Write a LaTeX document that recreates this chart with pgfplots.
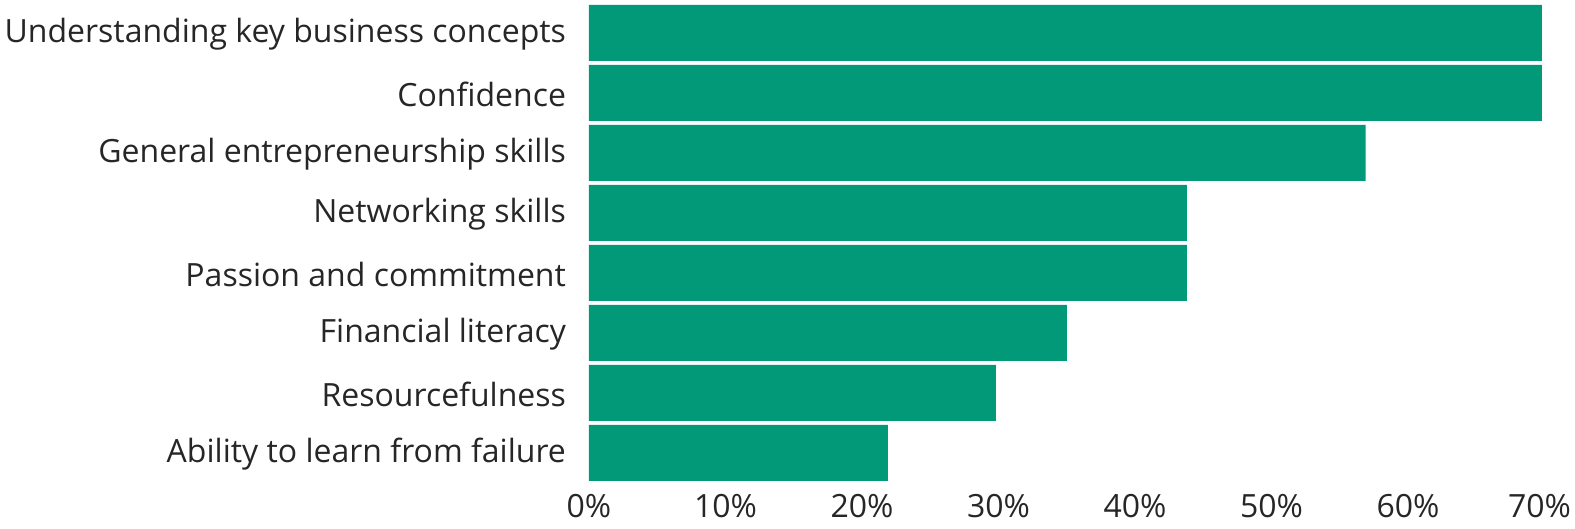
\documentclass[border=0pt]{standalone}
\usepackage{pgfplots}
\pgfplotsset{compat=1.18}
\usepackage{fontspec}
\setmainfont{Open Sans}
\definecolor{bargreen}{RGB}{2,153,120}
\definecolor{txt}{RGB}{38,38,38}
\begin{document}
\begin{tikzpicture}
\begin{axis}[
  scale only axis,
  width=477.75pt, height=240pt,
  xbar, bar width=28pt,
  xmin=0, xmax=70,
  ymin=-0.5, ymax=7.5,
  y dir=reverse,
  axis line style={draw=none},
  major tick length=0pt,
  ytick={0,1,2,3,4,5,6,7},
  yticklabels={Understanding key business concepts, Confidence, General entrepreneurship skills, Networking skills, Passion and commitment, Financial literacy, Resourcefulness, Ability to learn from failure},
  xtick={0,10,20,30,40,50,60},
  xticklabel={\pgfmathprintnumber{\tick}\%},
  extra x ticks={70},
  extra x tick labels={70\%},
  extra x tick style={xticklabel style={xshift=-2.5pt}},
  /pgf/number format/assume math mode=true,
  ticklabel style={font=\fontsize{16}{19}\selectfont, text=txt},
  yticklabel style={xshift=-8pt, yshift=-0.8pt},
  xticklabel style={yshift=-2pt},
]
\addplot[fill=bargreen, draw=none] coordinates {
  (69.8,0) (69.8,1) (56.9,2) (43.8,3) (43.8,4) (35.0,5) (29.8,6) (21.9,7)
};
\end{axis}
\pgfresetboundingbox
\path[use as bounding box] ([xshift=-294.5pt, yshift=-23pt]current axis.south west) rectangle ([xshift=15.25pt, yshift=1.5pt]current axis.north east);
\end{tikzpicture}
\end{document}
